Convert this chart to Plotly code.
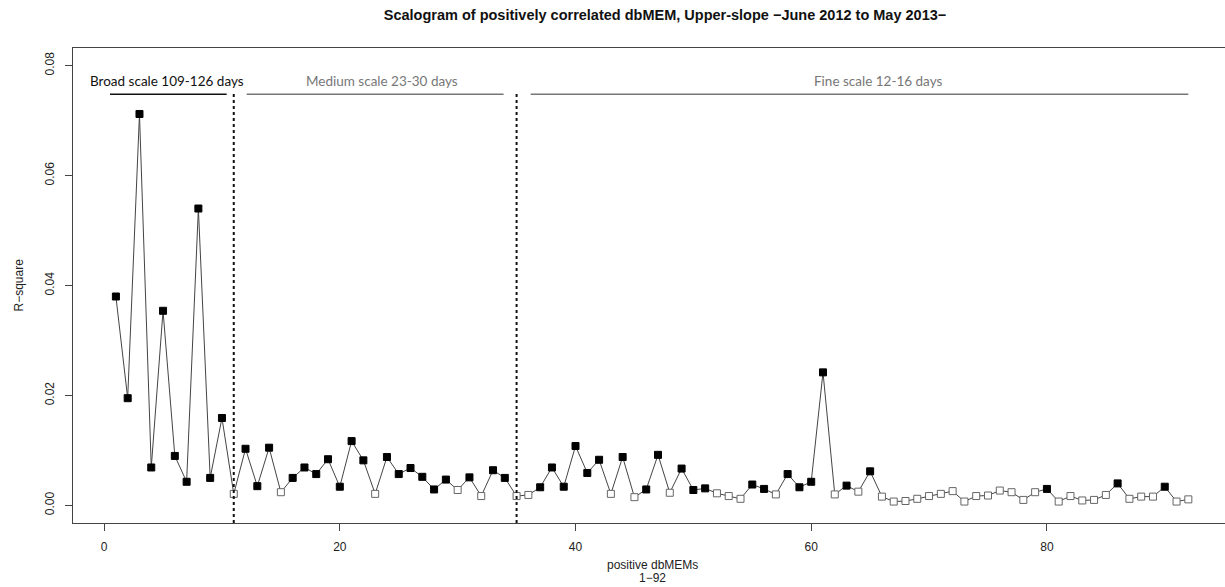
import plotly.graph_objects as go

# ---- data ----
dbmem_index = list(range(1, 93))
r_square = [
    0.0380, 0.0195, 0.0712, 0.0069, 0.0354, 0.0090, 0.0043, 0.0540, 0.0050, 0.0159,
    0.0021, 0.0103, 0.0035, 0.0105, 0.0024, 0.0050, 0.0069, 0.0057, 0.0084, 0.0034,
    0.0117, 0.0082, 0.0021, 0.0088, 0.0057, 0.0068, 0.0052, 0.0029, 0.0047, 0.0028,
    0.0051, 0.0017, 0.0064, 0.0050, 0.0017, 0.0019, 0.0033, 0.0069, 0.0034, 0.0108,
    0.0059, 0.0083, 0.0021, 0.0088, 0.0015, 0.0029, 0.0092, 0.0023, 0.0067, 0.0028,
    0.0031, 0.0022, 0.0017, 0.0012, 0.0038, 0.0030, 0.0020, 0.0057, 0.0033, 0.0043,
    0.0242, 0.0020, 0.0036, 0.0025, 0.0062, 0.0016, 0.0007, 0.0008, 0.0012, 0.0017,
    0.0021, 0.0026, 0.0007, 0.0017, 0.0018, 0.0027, 0.0024, 0.0010, 0.0024, 0.0030,
    0.0007, 0.0017, 0.0009, 0.0010, 0.0019, 0.0040, 0.0012, 0.0016, 0.0016, 0.0034,
    0.0007, 0.0011,
]
significant = [
    1, 1, 1, 1, 1, 1, 1, 1, 1, 1,
    0, 1, 1, 1, 0, 1, 1, 1, 1, 1,
    1, 1, 0, 1, 1, 1, 1, 1, 1, 0,
    1, 0, 1, 1, 0, 0, 1, 1, 1, 1,
    1, 1, 0, 1, 0, 1, 1, 0, 1, 1,
    1, 0, 0, 0, 1, 1, 0, 1, 1, 1,
    1, 0, 1, 0, 1, 0, 0, 0, 0, 0,
    0, 0, 0, 0, 0, 0, 0, 0, 0, 1,
    0, 0, 0, 0, 0, 1, 0, 0, 0, 1,
    0, 0,
]
scale_breaks = [11, 35]
scale_labels = ["Broad scale 109-126 days", "Medium scale 23-30 days", "Fine scale 12-16 days"]
scale_label_x = [5.36, 23.6, 65.7]
scale_seg_start = [0.5, 12.1, 36.2]
scale_seg_end = [10.4, 33.9, 92.0]
scale_colors = ["#111111", "#777777", "#777777"]
x_ticks = [0, 20, 40, 60, 80]
y_ticks = [0.00, 0.02, 0.04, 0.06, 0.08]
y_ticktext = ["0.00", "0.02", "0.04", "0.06", "0.08"]

fill_colors = ["#000000" if s else "#ffffff" for s in significant]
edge_colors = ["#000000" if s else "#666666" for s in significant]

fig = go.Figure()
fig.add_trace(go.Scatter(
    x=dbmem_index, y=r_square, mode="lines+markers",
    line=dict(color="#444444", width=1),
    marker=dict(symbol="square", size=7, color=fill_colors,
                line=dict(color=edge_colors, width=1)),
    showlegend=False, hoverinfo="x+y",
))

YMIN, YMAX = -0.0032, 0.0832
LINE_Y = 0.0748
TEXT_Y = 0.0772

shapes = []
for b in scale_breaks:
    shapes.append(dict(type="line", xref="x", yref="y", x0=b, x1=b, y0=YMIN, y1=0.075,
                       line=dict(color="#111111", width=2, dash="dot")))
for x0, x1, c in zip(scale_seg_start, scale_seg_end, scale_colors):
    shapes.append(dict(type="line", xref="x", yref="y", x0=x0, x1=x1, y0=LINE_Y, y1=LINE_Y,
                       line=dict(color=c, width=1.5)))

annotations = []
for lab, lx, c in zip(scale_labels, scale_label_x, scale_colors):
    annotations.append(dict(x=lx, y=TEXT_Y, xref="x", yref="y", text=lab, showarrow=False,
                            font=dict(family="Lato, Open Sans, sans-serif", size=13.5, color=c),
                            xanchor="center", yanchor="middle"))

axis_font = dict(family="Liberation Sans, Arial, sans-serif", size=12, color="#222222")
W, H = 1225, 587
ML, MR, MT, MB = 73, 0, 48, 64
PW, PH = W - ML - MR, H - MT - MB
px_per_unit = 11.785
xmin = -2.64
xmax = xmin + PW / px_per_unit


def px_to_paper(px_x, px_y):
    return (px_x - ML) / PW, (H - px_y - MB) / PH


for txt, py in [("positive dbMEMs", 565), ("1−92", 578)]:
    ax, ay = px_to_paper(652, py)
    annotations.append(dict(x=ax, y=ay, xref="paper", yref="paper", text=txt,
                            showarrow=False, font=axis_font, xanchor="center", yanchor="middle"))

ax, ay = px_to_paper(18, 285.5)
annotations.append(dict(x=ax, y=ay, xref="paper", yref="paper", text="R−square", textangle=-90,
                        showarrow=False, font=axis_font, xanchor="center", yanchor="middle"))

fig.update_layout(
    width=W, height=H,
    margin=dict(l=ML, r=MR, t=MT, b=MB),
    paper_bgcolor="white", plot_bgcolor="white",
    title=dict(text="<b>Scalogram of positively correlated dbMEM, Upper-slope −June 2012 to May 2013−</b>",
               x=665 / W, xanchor="center", y=1 - 15 / H, yanchor="middle",
               font=dict(family="Liberation Sans, Arial, sans-serif", size=14.5, color="#111111")),
    shapes=shapes, annotations=annotations,
    xaxis=dict(range=[xmin, xmax], tickvals=x_ticks, showgrid=False, zeroline=False,
               showline=True, linecolor="#444444", linewidth=1, mirror=True,
               ticks="outside", ticklen=7, tickcolor="#444444", tickfont=axis_font,
               ticklabelstandoff=6),
    yaxis=dict(range=[YMIN, YMAX], tickvals=y_ticks, ticktext=y_ticktext, tickangle=-90,
               showgrid=False, zeroline=False, showline=True, linecolor="#444444", linewidth=1,
               mirror=False, ticks="outside", ticklen=7, tickcolor="#444444", tickfont=axis_font,
               ticklabelstandoff=6),
)

fig.write_html("out.html", config={"displayModeBar": False},
               post_script="document.body.style.margin='0';")
